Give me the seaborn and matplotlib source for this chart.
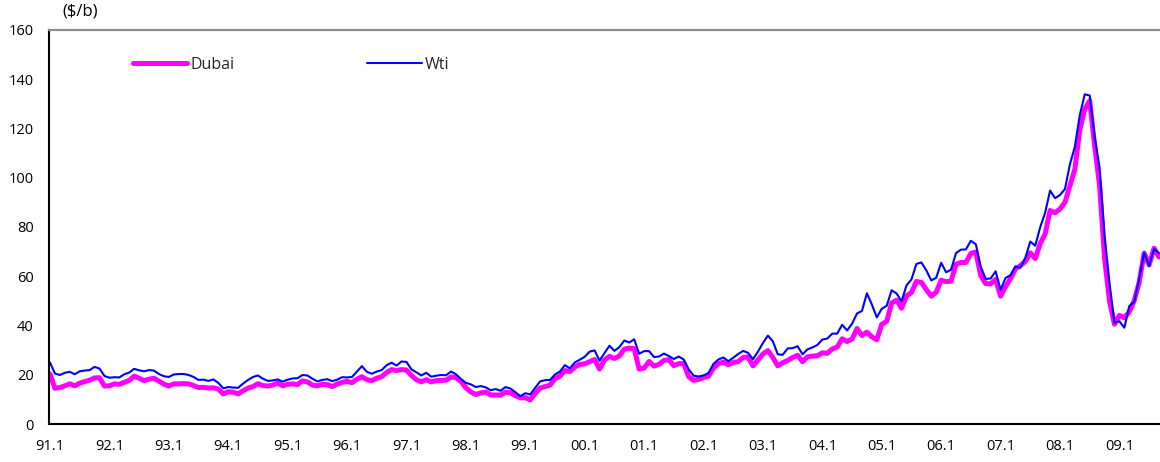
import matplotlib
matplotlib.use("Agg")
import matplotlib.pyplot as plt
import numpy as np
import pandas as pd
import seaborn as sns

# Monthly crude oil prices, Jan 1991 - Sep 2009 ($/b)
start_month = "1991-01"
end_month = "2009-09"

dubai = [
    20.3, 14.5, 14.8, 15.5, 16.3, 15.5, 16.6, 17.2, 17.8, 18.7, 18.8, 15.4,   # 1991
    15.5, 16.3, 16.1, 16.9, 17.7, 19.4, 18.6, 17.6, 18.2, 18.6, 17.4, 16.2,   # 1992
    15.4, 16.3, 16.3, 16.4, 16.3, 15.6, 14.8, 14.9, 14.6, 14.7, 14.2, 12.2,   # 1993
    13.1, 12.9, 12.2, 13.5, 14.6, 15.2, 16.4, 15.6, 15.4, 15.8, 16.6, 15.5,   # 1994
    16.1, 16.3, 16.0, 17.5, 17.1, 15.8, 15.5, 16.1, 16.0, 15.2, 16.2, 16.9,   # 1995
    17.3, 16.8, 18.2, 19.2, 18.0, 17.6, 18.6, 19.2, 20.9, 22.1, 21.7, 22.1,   # 1996
    21.9, 19.7, 18.0, 17.1, 18.0, 17.1, 17.6, 17.7, 17.8, 19.1, 18.8, 17.3,   # 1997
    14.7, 13.0, 12.0, 12.6, 13.0, 11.8, 11.8, 11.7, 12.9, 12.7, 11.5, 10.6,   # 1998
    10.7, 9.8, 12.4, 14.6, 15.2, 15.8, 18.4, 19.4, 21.7, 21.3, 23.1, 24.2,    # 1999
    24.4, 25.3, 26.2, 22.3, 26.0, 27.5, 26.6, 27.6, 30.4, 30.8, 30.6, 22.3,   # 2000
    22.7, 25.4, 23.5, 24.2, 25.8, 26.1, 23.7, 24.5, 24.6, 19.2, 17.7, 18.1,   # 2001
    18.9, 19.4, 22.7, 24.5, 25.1, 24.1, 25.0, 25.3, 27.0, 27.2, 23.6, 26.0,   # 2002
    28.4, 29.8, 27.0, 23.6, 24.9, 25.8, 27.0, 27.9, 25.3, 27.3, 27.6, 27.7,   # 2003
    28.9, 28.7, 30.5, 31.2, 34.6, 33.5, 34.5, 38.8, 35.9, 37.3, 35.4, 34.2,   # 2004
    40.5, 41.7, 49.1, 50.3, 47.0, 52.0, 53.4, 57.9, 57.5, 54.6, 51.9, 53.5,   # 2005
    58.4, 57.8, 58.0, 64.9, 65.6, 65.6, 69.3, 69.8, 60.2, 57.0, 56.9, 58.7,   # 2006
    51.9, 55.8, 59.0, 63.0, 64.3, 66.0, 69.5, 67.2, 73.2, 77.2, 86.7, 85.8,   # 2007
    87.3, 90.0, 96.7, 103.4, 119.4, 127.8, 131.3, 112.9, 96.8, 67.4, 49.9, 40.5,  # 2008
    44.1, 43.1, 45.6, 50.1, 57.6, 69.4, 64.6, 71.4, 67.8,                     # 2009
]

wti = [
    25.0, 20.5, 19.9, 20.8, 21.2, 20.2, 21.4, 21.7, 21.9, 23.2, 22.5, 19.5,   # 1991
    18.8, 19.0, 18.9, 20.2, 20.9, 22.4, 21.8, 21.4, 21.9, 21.7, 20.3, 19.4,   # 1992
    19.1, 20.1, 20.3, 20.3, 19.9, 19.1, 17.9, 18.0, 17.5, 18.1, 16.7, 14.5,   # 1993
    15.0, 14.8, 14.7, 16.4, 17.9, 19.1, 19.7, 18.4, 17.5, 17.7, 18.1, 17.2,   # 1994
    18.0, 18.5, 18.6, 19.9, 19.7, 18.4, 17.3, 17.9, 18.2, 17.4, 18.0, 19.0,   # 1995
    18.9, 19.1, 21.3, 23.5, 21.2, 20.4, 21.3, 21.9, 23.9, 24.9, 23.7, 25.4,   # 1996
    25.2, 22.2, 21.0, 19.7, 20.8, 19.2, 19.6, 19.9, 19.8, 21.3, 20.2, 18.3,   # 1997
    16.7, 16.1, 15.0, 15.4, 14.9, 13.7, 14.2, 13.5, 15.0, 14.4, 12.9, 11.3,   # 1998
    12.5, 12.0, 14.7, 17.3, 17.8, 17.9, 20.1, 21.3, 23.9, 22.6, 25.0, 26.1,   # 1999
    27.3, 29.4, 29.9, 25.7, 28.8, 31.8, 29.7, 31.2, 33.9, 33.1, 34.4, 28.5,   # 2000
    29.6, 29.6, 27.2, 27.4, 28.6, 27.6, 26.4, 27.4, 26.2, 22.2, 19.6, 19.3,   # 2001
    19.7, 20.7, 24.4, 26.2, 27.0, 25.5, 26.9, 28.4, 29.7, 28.9, 26.3, 29.4,   # 2002
    32.9, 35.9, 33.6, 28.3, 28.1, 30.7, 30.8, 31.6, 28.3, 30.3, 31.1, 32.1,   # 2003
    34.3, 34.7, 36.7, 36.7, 40.3, 38.0, 40.7, 44.9, 45.9, 53.1, 48.5, 43.3,   # 2004
    46.8, 48.0, 54.3, 53.0, 49.8, 56.3, 58.7, 65.0, 65.6, 62.4, 58.3, 59.4,   # 2005
    65.5, 61.6, 62.7, 69.4, 70.8, 70.9, 74.4, 73.0, 63.8, 58.9, 59.1, 62.0,   # 2006
    54.5, 59.3, 60.4, 64.0, 63.5, 67.5, 74.1, 72.4, 79.9, 85.8, 94.8, 91.7,   # 2007
    93.0, 95.4, 105.4, 112.6, 125.4, 133.9, 133.4, 116.7, 104.1, 76.6, 57.3, 41.1,  # 2008
    41.7, 39.1, 47.9, 49.6, 59.0, 69.6, 64.2, 71.1, 69.4,                     # 2009
]

y_ticks = [0, 20, 40, 60, 80, 100, 120, 140, 160]
series_names = ["Dubai", "Wti"]
unit_label = "($/b)"

months = pd.period_range(start_month, end_month, freq="M")
df = pd.DataFrame({"t": np.arange(len(months)), "Dubai": dubai, "Wti": wti})

sns.set_style("white")
plt.rcParams["font.family"] = ["Open Sans", "DejaVu Sans"]

fig = plt.figure(figsize=(11.6, 4.62), dpi=100)
ax = fig.add_axes([49 / 1160, 38 / 462, 1111 / 1160, 394 / 462])

sns.lineplot(data=df, x="t", y="Dubai", ax=ax, color="#FF00FF",
             linewidth=3.6, label=series_names[0])
sns.lineplot(data=df, x="t", y="Wti", ax=ax, color="#0000FF",
             linewidth=1.5, label=series_names[1])

ax.set_xlim(-0.2, 224.2)
ax.set_ylim(0, 160)
ax.set_xlabel("")
ax.set_ylabel("")

# half-year ticks, labels on January only
tick_pos = list(range(0, len(months), 6))
tick_lab = [f"{months[i].year % 100:02d}.1" if months[i].month == 1 else ""
            for i in tick_pos]
ax.set_xticks(tick_pos)
ax.set_xticklabels(tick_lab)
ax.set_yticks(y_ticks)
ax.set_yticklabels([str(v) for v in y_ticks])

ax.tick_params(axis="both", direction="in", length=4, width=1,
               color="black", labelsize=10.5, labelcolor="black")
ax.tick_params(axis="y", pad=11)
ax.tick_params(axis="x", pad=11)
for lab in ax.get_xticklabels() + ax.get_yticklabels():
    lab.set_fontweight("medium")

for side in ("left", "bottom"):
    ax.spines[side].set_color("black")
    ax.spines[side].set_linewidth(1.5)
ax.spines["top"].set_color("#8c8c8c")
ax.spines["top"].set_linewidth(1.6)
ax.spines["right"].set_visible(False)

ax.legend(loc="center left", bbox_to_anchor=((133 - 49) / 1111, (424 - 65) / 394),
          ncol=2, frameon=False, prop={"size": 11.5, "weight": "medium"},
          handlelength=3.4, handletextpad=0.2, columnspacing=8.3,
          borderpad=0, borderaxespad=0)

fig.text(62 / 1160, 1 - 12 / 462, unit_label, ha="left", va="center",
         fontsize=12, fontweight="medium", color="black")

fig.savefig("out.png", dpi=100)
